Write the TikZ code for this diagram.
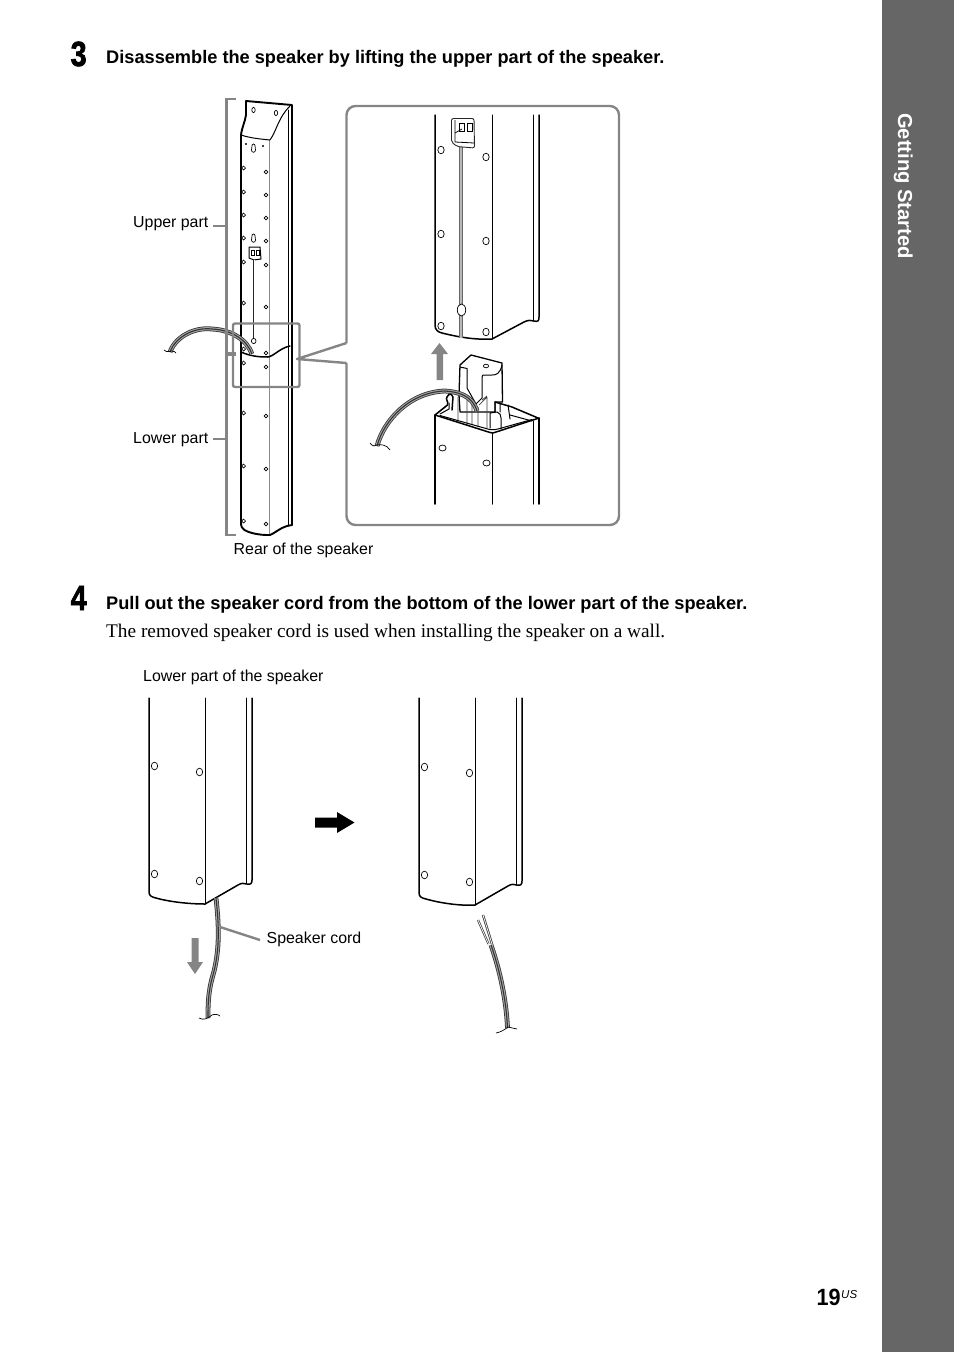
\documentclass[tikz,border=0pt]{standalone}
\usepackage{fontspec}
\setmainfont{Liberation Sans}
\newfontfamily\serifface{Liberation Serif}
\newfontfamily\stepface[FakeStretch=0.82,FakeBold=2]{Liberation Sans Bold}
\newfontfamily\numface[FakeStretch=0.92]{Liberation Sans Bold}
\definecolor{sidegray}{HTML}{666666}
\definecolor{callgray}{HTML}{858585}
\newcommand{\cordline}[1]{%
  \draw[line width=4.8pt,black!80] #1;
  \draw[line width=3.2pt,white!65!black] #1;
  \draw[line width=1.1pt,black!80] #1;}
\tikzset{
  edge/.style={line width=1.5pt,black,line join=round,line cap=round},
  thinedge/.style={line width=1pt,black,line join=round,line cap=round},
  hole/.style={line width=.7pt,black,fill=white},
  call/.style={line width=2.4pt,callgray},
  label/.style={anchor=base west,inner sep=0pt,font=\fontsize{15.9}{16}\selectfont},
  steptitle/.style={anchor=base west,inner sep=0pt,font=\fontsize{18.2}{19}\selectfont\bfseries},
  stepno/.style={anchor=base west,inner sep=0pt,font=\fontsize{35}{35}\stepface}
}
\begin{document}
\begin{tikzpicture}[x=1pt,y=-1pt]
\useasboundingbox (0,0) rectangle (954,1352);
\fill[sidegray] (882,0) rectangle (954,1352);
\node[anchor=base west,inner sep=0pt,rotate=-90,white,font=\fontsize{20.2}{21}\selectfont\bfseries] (side) at (898,113) {Getting Started};
\node[stepno] (n3) at (70.5,66) {3};
\node[stepno] (n4) at (70.5,610) {4};
\node[steptitle] (t3) at (106,63) {Disassemble the speaker by lifting the upper part of the speaker.};
\node[steptitle] (t4) at (106,609) {Pull out the speaker cord from the bottom of the lower part of the speaker.};
\node[anchor=base west,inner sep=0pt,font=\fontsize{19.3}{20}\serifface] (body) at (106,637) {The removed speaker cord is used when installing the speaker on a wall.};
\node[label] (lu) at (133,227) {Upper part};
\node[label] (ll) at (133,443) {Lower part};
\node[label] (lr) at (233.5,554) {Rear of the speaker};
\node[label] (lw) at (143,681) {Lower part of the speaker};
\node[label] (ls) at (266.5,943) {Speaker cord};
\node[anchor=base west,inner sep=0pt,font=\fontsize{23.5}{24}\numface] (pg) at (816.5,1305) {19};
\node[anchor=base west,inner sep=0pt,font=\fontsize{11.5}{12}\selectfont\itshape] (us) at (841,1298) {US};
% ---- tall speaker
\draw[line width=1pt,black!45] (269,140) -- (269,535);
\draw[edge,line width=1.9pt] (246,101) -- (246,115) .. controls (245,122) and (242,127) .. (241,135) -- (241,523) .. controls (241,530) and (246,531) .. (252,533) .. controls (260,535) and (265,535) .. (270,535) .. controls (275,533) and (280,528) .. (287,526) -- (292,525) -- (292,105) -- cycle;
\draw[thinedge] (288.5,110) -- (288.5,526);
\draw[thinedge] (241,135) .. controls (250,138) and (260,139) .. (270,140) .. controls (277,130) and (278,118) .. (290,106);
\draw[edge] (241,352) .. controls (250,356) and (258,357) .. (268,357) .. controls (274,356) and (280,348) .. (290,346);
\foreach \y in {168,192,215,238,262,303,349,363,413,466,521} \draw[hole] (243.6,\y-1.9) -- (245.5,\y) -- (243.6,\y+1.9) -- (241.7,\y) -- cycle;
\foreach \y in {172,195,218,241,265,307,353,367,416,469,524} \draw[hole] (266,\y-1.9) -- (267.9,\y) -- (266,\y+1.9) -- (264.1,\y) -- cycle;
\fill (246,144) circle (1.1pt) (263,146) circle (1.1pt);
\draw[hole] (253.5,110) ellipse (1.7 and 2.6);
\draw[hole] (276,113) ellipse (1.7 and 2.6);
\foreach \y in {148,238} \draw[hole] (253.5,\y-4) .. controls (256,\y-4) and (254.5,\y) .. (255.5,\y+2) .. controls (255.5,\y+5) and (251.5,\y+5) .. (251.5,\y+2) .. controls (252.5,\y) and (251,\y-4) .. (253.5,\y-4);
\draw[thinedge] (249,247) -- (260,247) -- (261,259) -- (254,260) -- (249,258) -- cycle;
\draw[line width=.8pt] (251,250) rectangle (254,255) (256,250) rectangle (259,255);
\draw[line width=2.4pt,black!85] (254,260) -- (254,340);
\draw[line width=.6pt,white] (254,260) -- (254,340);
\draw[hole] (253.7,341) ellipse (2.3 and 2.6);
% cord on tall speaker
\cordline{(170,352) .. controls (176,336) and (195,327) .. (212,329) .. controls (232,330) and (247,340) .. (252,354)}
\draw[line width=.7pt] (164,350) .. controls (167,353) and (170,351) .. (172,351) .. controls (174,351) and (175,352) .. (176,353);
% brackets and callouts
\draw[call] (236,99) -- (226.5,99) -- (226.5,353) -- (236,353);
\draw[call] (236,355) -- (226.5,355) -- (226.5,535) -- (236,535);
\draw[call] (213,226) -- (226.5,226);
\draw[call] (213,439) -- (226.5,439);
\draw[call,rounded corners=2pt] (233,323.5) rectangle (299.5,387);
\coordinate (tipa) at (297,359);
\coordinate (ca) at (346.5,343);
\coordinate (cb) at (346.5,363);
\draw[call,rounded corners=9pt] (ca) -- (346.5,106) -- (619,106) -- (619,525) -- (346.5,525) -- (cb);
\draw[call,line join=round] (ca) -- (tipa) -- (cb);
% ---- inset upper part
\draw[edge] (435,115) -- (435,325) .. controls (435,330) and (438,332) .. (442,333) .. controls (458,337) and (475,340) .. (492,339) -- (524,322) .. controls (528,320) and (531,320) .. (534,321) .. controls (538,322) and (539,321) .. (539,317) -- (539,115);
\draw[thinedge] (492,115) -- (492,339);
\draw[thinedge] (533,115) -- (533,321);
\foreach \p in {(441,150),(486,157),(441,234),(486,241),(441,326),(486,332)} \draw[hole] \p ellipse (3.2 and 3.8);
\draw[line width=3.6pt,black!60] (461,147) -- (461,338);
\draw[line width=1.4pt,black!28] (461,147) -- (461,338);
\draw[hole] (461.5,310) ellipse (4.2 and 6);
\draw[line width=.9pt,black!85,fill=white,rounded corners=2pt] (451.5,118.5) -- (474,118.5) -- (474.5,148) -- (457,146.5) -- (451.5,142) -- cycle;
\draw[line width=.8pt] (455,120) -- (455,142) -- (474,143);
\draw[line width=.7pt] (455,133) -- (462,129);
\draw[line width=.7pt] (459.5,131.5) rectangle (464,123) (467.5,131.5) rectangle (472,123);
% ---- inset lower part: socket tongue
\draw[line width=1.3pt,fill=white,line join=round] (459,395) -- (460,365) -- (471,355) -- (502,363) -- (502.5,402) -- (495,402) -- (495,412) -- (460,412) -- cycle;
\draw[thinedge] (460,367) -- (467,368.5) -- (467,388) -- (476,404) -- (482,398) -- (482,377) .. controls (482,375) and (483,375) .. (485,375) -- (492,375) .. controls (496,375) and (500,374) .. (502,365);
\draw[hole] (486,366) ellipse (2.6 and 1.8);
% slats
\draw[line width=.7pt,black!75] (458,397) -- (458,422) (467,395) -- (467,425) (472,397) -- (472,424) (478,407) -- (478,427) (482,400) -- (487,396) (479,405) -- (487,397) (487,397) -- (487,428);
\draw[thinedge] (490,428) -- (490,413) -- (497,412) .. controls (500,413) and (501,415) .. (501,418) -- (501,429);
\draw[thinedge] (495,412) -- (495,402) (500,403) -- (500,412) (508,405) -- (510,419);
% rear rim
\draw[edge] (495,402) -- (512,407) -- (538,418);
\draw[thinedge] (510,415) -- (532,421);
% left lip
\draw[edge] (435,415) -- (447.5,405) .. controls (449,402) and (445,399) .. (447,397) .. controls (448,395) and (449,394) .. (451,394) -- (453,397) -- (452,410);
\draw[thinedge] (449,403) -- (449,409) -- (440,414);
% front rim
\draw[edge] (435,415) -- (490,432.5) -- (493,433) -- (539,418);
\draw[thinedge] (440,415.5) -- (486,428.5) .. controls (490,430) and (494,430) .. (498,429) -- (532,419.5);
\draw[edge] (435,415) -- (435,504);
\draw[edge] (492.5,433) -- (492.5,504);
\draw[edge] (539,418) -- (539,504);
\draw[thinedge] (533,421) -- (533,504);
\foreach \p in {(442.5,448),(486.5,463)} \draw[hole] \p ellipse (3.6 and 3);
% cord in inset
\cordline{(377,446) .. controls (384,420) and (410,392) .. (445,391) .. controls (458,392) and (472,395) .. (477,411)}
\draw[line width=.7pt] (370,443) .. controls (373,447) and (375,446) .. (377,445) .. controls (381,444) and (387,445) .. (390,450);
% gray arrow up
\fill[callgray] (431,354) -- (439.5,343) -- (448,354) -- (443,354) -- (443,380) -- (436.5,380) -- (436.5,354) -- cycle;
% ---- lower left speaker
\draw[edge] (149,698) -- (149,892) .. controls (149,896) and (152,897) .. (156,898) .. controls (170,902) and (190,904) .. (205,904) -- (238,885) .. controls (241,883) and (244,883) .. (247,884) .. controls (251,885) and (252,883) .. (252,880) -- (252,698);
\draw[thinedge] (205,698) -- (205,904);
\draw[thinedge] (246,698) -- (246,883);
\foreach \p in {(154.5,766),(199.5,772),(154.5,874),(199.5,881)} \draw[hole] \p ellipse (3.2 and 3.8);
\cordline{(216,898) .. controls (219,925) and (220,950) .. (213,975) .. controls (208,992) and (208,1005) .. (208,1018)}
\draw[line width=.7pt] (199,1018) .. controls (204,1021) and (208,1018) .. (212,1015) .. controls (214,1014) and (218,1014) .. (220,1016);
\draw[call] (220,927) -- (260,940);
\fill[callgray] (191.5,938) -- (198.5,938) -- (198.5,962) -- (203,962) -- (195,974) -- (187,962) -- (191.5,962) -- cycle;
% ---- lower right speaker
\draw[edge] (419,698) -- (419,893) .. controls (419,897) and (422,898) .. (426,899) .. controls (440,903) and (460,906) .. (475,905) -- (508,886) .. controls (511,884) and (514,884) .. (517,885) .. controls (521,886) and (522,884) .. (522,881) -- (522,698);
\draw[thinedge] (475,698) -- (475,905);
\draw[thinedge] (516,698) -- (516,885);
\foreach \p in {(424.5,767),(469.5,773),(424.5,875),(469.5,882)} \draw[hole] \p ellipse (3.2 and 3.8);
\cordline{(491,945) .. controls (498,965) and (506,995) .. (507.5,1028)}
\draw[line width=2.2pt,black!75] (488.5,944) -- (478,920);
\draw[line width=.7pt,white] (488.5,944) -- (478,920);
\draw[line width=2.4pt,black!75] (492,944) -- (483,915);
\draw[line width=.7pt,white] (492,944) -- (483,915);
\draw[line width=.7pt] (496,1033) .. controls (501,1032) and (504,1030) .. (508,1027) .. controls (511,1028) and (514,1028) .. (517,1029);
% black arrow
\fill (315,817.5) -- (337,817.5) -- (337,812) -- (354.5,822.5) -- (337,833) -- (337,827.5) -- (315,827.5) -- cycle;
\end{tikzpicture}
\end{document}
